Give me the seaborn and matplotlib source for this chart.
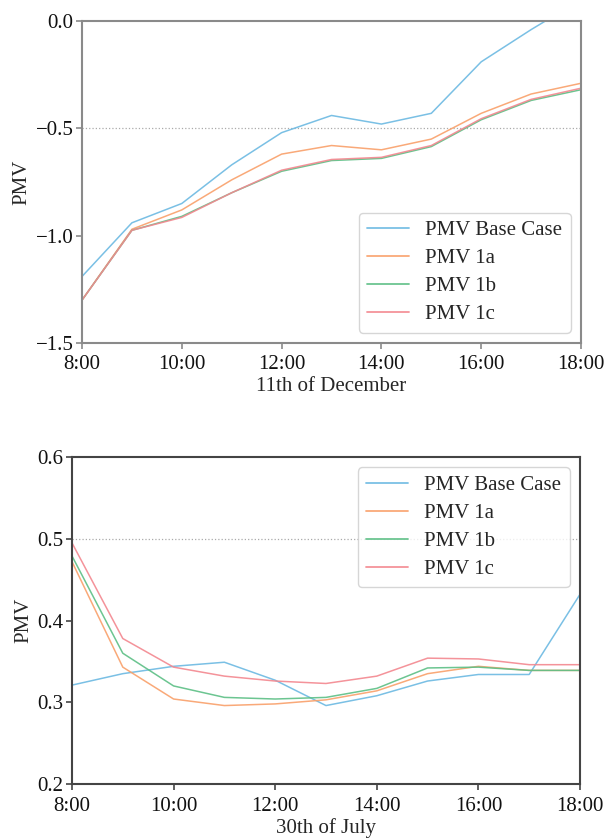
import matplotlib
matplotlib.use("Agg")
import matplotlib.pyplot as plt
import seaborn as sns
import pandas as pd

hours = [8, 9, 10, 11, 12, 13, 14, 15, 16, 17, 18]
tick_hours = [8, 10, 12, 14, 16, 18]
tick_labels = ["8:00", "10:00", "12:00", "14:00", "16:00", "18:00"]
series_names = ["PMV Base Case", "PMV 1a", "PMV 1b", "PMV 1c"]

dec_base = [-1.19, -0.94, -0.85, -0.67, -0.52, -0.44, -0.48, -0.43, -0.19, -0.04, 0.10]
dec_1a = [-1.30, -0.97, -0.88, -0.74, -0.62, -0.58, -0.60, -0.55, -0.43, -0.34, -0.29]
dec_1b = [-1.30, -0.975, -0.91, -0.80, -0.70, -0.65, -0.64, -0.585, -0.46, -0.37, -0.32]
dec_1c = [-1.30, -0.975, -0.915, -0.80, -0.695, -0.645, -0.635, -0.58, -0.455, -0.365, -0.313]

jul_base = [0.321, 0.335, 0.344, 0.349, 0.327, 0.296, 0.308, 0.326, 0.334, 0.334, 0.432]
jul_1a = [0.472, 0.343, 0.304, 0.296, 0.298, 0.303, 0.314, 0.335, 0.344, 0.339, 0.339]
jul_1b = [0.479, 0.360, 0.320, 0.306, 0.304, 0.306, 0.317, 0.342, 0.343, 0.339, 0.339]
jul_1c = [0.495, 0.378, 0.343, 0.332, 0.326, 0.323, 0.332, 0.354, 0.353, 0.346, 0.346]

colors = ["#6cb9e2", "#f9a06a", "#5cbf85", "#f3878f"]

sns.set_style("ticks")
plt.rcParams["font.family"] = ["Liberation Serif", "DejaVu Serif"]
plt.rcParams["axes.unicode_minus"] = True

FS = 15


def long_df(values_list):
    rows = []
    for name, vals in zip(series_names, values_list):
        for h, v in zip(hours, vals):
            rows.append({"hour": h, "PMV": v, "series": name})
    return pd.DataFrame(rows)


fig = plt.figure(figsize=(6.08, 8.38), dpi=100)
ax1 = fig.add_axes([0.1349, 0.5907, 0.8207, 0.3842])
ax2 = fig.add_axes([0.1184, 0.0644, 0.8355, 0.3902])


def style_axes(ax, spine_color, ylim, yticks, xlabel, legend_loc):
    ax.set_xlim(8, 18)
    ax.set_ylim(*ylim)
    ax.set_xticks(tick_hours)
    ax.set_xticklabels(tick_labels)
    ax.set_yticks(yticks)
    for s in ax.spines.values():
        s.set_color(spine_color)
        s.set_linewidth(1.5)
        s.set_visible(True)
    ax.tick_params(axis="both", direction="out", length=4, width=1.2,
                   color=spine_color, labelsize=FS, pad=2, labelcolor="#111111")
    ax.tick_params(axis="x", pad=5)
    ax.set_xlabel(xlabel, fontsize=FS, labelpad=2)
    ax.set_ylabel("PMV", fontsize=FS, labelpad=3)
    leg = ax.legend(loc=legend_loc, fontsize=FS, frameon=True,
                    handlelength=2.0, borderpad=0.4, labelspacing=0.4,
                    handletextpad=0.8, borderaxespad=0.5)
    leg.get_frame().set_edgecolor("#cccccc")
    leg.get_frame().set_linewidth(1.0)
    for line in leg.get_lines():
        line.set_linewidth(1.3)


df1 = long_df([dec_base, dec_1a, dec_1b, dec_1c])
sns.lineplot(data=df1, x="hour", y="PMV", hue="series", palette=colors,
             linewidth=1.1, ax=ax1, alpha=0.9)
ax1.axhline(-0.5, color="#aaaaaa", linestyle=":", linewidth=0.9, zorder=0)
style_axes(ax1, "#8a8a8a", (-1.5, 0.0), [-1.5, -1.0, -0.5, 0.0],
           "11th of December", "lower right")

df2 = long_df([jul_base, jul_1a, jul_1b, jul_1c])
sns.lineplot(data=df2, x="hour", y="PMV", hue="series", palette=colors,
             linewidth=1.1, ax=ax2, alpha=0.9)
ax2.axhline(0.5, color="#aaaaaa", linestyle=":", linewidth=0.9, zorder=0)
style_axes(ax2, "#444444", (0.2, 0.6), [0.2, 0.3, 0.4, 0.5, 0.6],
           "30th of July", "upper right")

fig.savefig("out.png", dpi=100)
